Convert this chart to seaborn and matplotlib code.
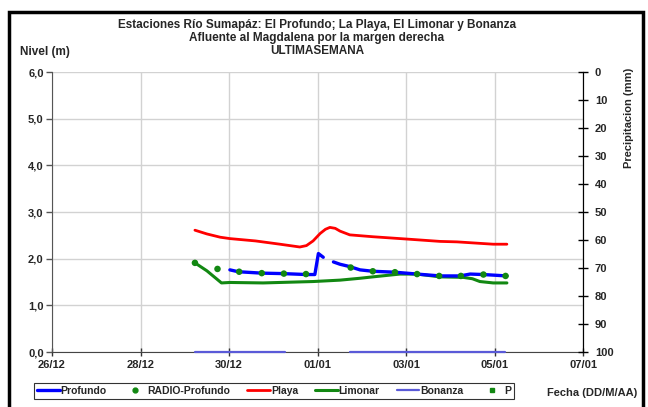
import numpy as np
import pandas as pd
import seaborn as sns
import matplotlib.pyplot as plt
import matplotlib.dates as mdates
from matplotlib.lines import Line2D
from matplotlib.patches import Rectangle

# dias contados desde el 26/12 a las 00:00
inicio = pd.Timestamp("2011-12-26")

playa_t = [3.23, 3.50, 3.80, 4.02, 4.60, 5.15, 5.45, 5.60, 5.75, 5.90, 6.06, 6.18, 6.28, 6.40, 6.51, 6.73,
           7.25, 8.02, 8.77, 9.15, 9.97, 10.28]
playa_v = [2.61, 2.53, 2.46, 2.43, 2.38, 2.31, 2.27, 2.25, 2.28, 2.38, 2.54, 2.63, 2.67, 2.65, 2.59, 2.51,
           2.47, 2.42, 2.37, 2.36, 2.31, 2.31]

limonar_t = [3.23, 3.50, 3.83, 4.02, 4.77, 5.90, 6.51, 6.96, 7.25, 7.86, 8.25, 8.77, 9.29, 9.50, 9.67, 9.97, 10.28]
limonar_v = [1.91, 1.74, 1.48, 1.49, 1.48, 1.51, 1.54, 1.58, 1.61, 1.67, 1.67, 1.61, 1.60, 1.57, 1.51, 1.48, 1.48]

profundo1_t = [4.02, 4.21, 4.74, 5.22, 5.75, 5.94, 6.02, 6.13]
profundo1_v = [1.76, 1.72, 1.69, 1.68, 1.66, 1.66, 2.11, 2.03]
profundo2_t = [6.36, 6.51, 6.73, 6.96, 7.25, 7.75, 8.25, 8.77, 9.22, 9.45, 9.75, 10.28]
profundo2_v = [1.93, 1.88, 1.83, 1.76, 1.73, 1.71, 1.67, 1.63, 1.63, 1.67, 1.66, 1.63]

radio_t = [3.23, 3.74, 4.23, 4.74, 5.24, 5.74, 6.75, 7.25, 7.75, 8.25, 8.75, 9.24, 9.75, 10.25]
radio_v = [1.91, 1.78, 1.72, 1.69, 1.68, 1.67, 1.81, 1.73, 1.71, 1.67, 1.63, 1.63, 1.66, 1.63]

bonanza1_t = [3.23, 4.0, 5.0, 5.27]
bonanza1_v = [0.0, 0.0, 0.0, 0.0]
bonanza2_t = [6.74, 8.0, 9.0, 10.24]
bonanza2_v = [0.0, 0.0, 0.0, 0.0]

p_t = []
p_v = []

nivel_ticks = [0, 1, 2, 3, 4, 5, 6]
precip_ticks = list(range(0, 101, 10))

titulo = ("Estaciones Río Sumapáz: El Profundo; La Playa, El Limonar y Bonanza\n"
          "Afluente al Magdalena por la margen derecha\n"
          "ULTIMASEMANA")


def serie(t, v):
    return pd.DataFrame({"fecha": inicio + pd.to_timedelta(t, unit="D"), "nivel": v})


sns.set_style("white")
plt.rcParams["font.family"] = ["Liberation Sans", "DejaVu Sans"]
plt.rcParams["font.weight"] = "bold"

fig = plt.figure(figsize=(6.48, 4.07), dpi=100)
ax = fig.add_axes([52 / 648, 1 - 352 / 407, 531 / 648, 280 / 407])
ax2 = ax.twinx()

azul = "#0000FF"
rojo = "#FF0000"
verde = "#128812"
lila = "#5a5ad8"

sns.lineplot(data=serie(playa_t, playa_v), x="fecha", y="nivel", color=rojo, lw=2, ax=ax)
sns.lineplot(data=serie(limonar_t, limonar_v), x="fecha", y="nivel", color=verde, lw=2.2, ax=ax)
sns.lineplot(data=serie(profundo1_t, profundo1_v), x="fecha", y="nivel", color=azul, lw=2.4, ax=ax)
sns.lineplot(data=serie(profundo2_t, profundo2_v), x="fecha", y="nivel", color=azul, lw=2.4, ax=ax)
sns.scatterplot(data=serie(radio_t, radio_v), x="fecha", y="nivel", color=verde, s=22,
                edgecolor="none", ax=ax, zorder=5)
for bt, bv in [(bonanza1_t, bonanza1_v), (bonanza2_t, bonanza2_v)]:
    sns.lineplot(data=serie(bt, bv), x="fecha", y="nivel", color=lila, lw=1.6, ax=ax,
                 clip_on=False, zorder=6)
if len(p_t):
    sns.scatterplot(data=serie(p_t, p_v), x="fecha", y="nivel", color=verde, marker="s", s=8, ax=ax2)

ax.set_xlim(inicio, inicio + pd.Timedelta(days=12))
ax.set_ylim(0, 6)
ax.set_yticks(nivel_ticks)
ax.set_yticklabels([f"{v:.1f}".replace(".", ",") for v in nivel_ticks], fontsize=8, fontweight="bold")
ax.xaxis.set_major_locator(mdates.DayLocator(interval=2))
ax.xaxis.set_major_formatter(mdates.DateFormatter("%d/%m"))
for lab in ax.get_xticklabels():
    lab.set_fontsize(8)
    lab.set_fontweight("bold")
ax.set_xlabel("")
ax.set_ylabel("")
ax.grid(True, color="#d2d2d2", lw=1)
ax.tick_params(axis="y", direction="out", length=4, width=1, pad=2, left=True, color="#555555")
ax.tick_params(axis="x", direction="inout", length=6, width=1, pad=3, bottom=True, color="#333333")

ax2.set_ylim(100, 0)
ax2.set_yticks(precip_ticks)
ax2.set_yticklabels([str(v) for v in precip_ticks], fontsize=8, fontweight="bold")
ax2.tick_params(axis="y", direction="inout", length=7, width=1, pad=5, right=True, color="black")
ax2.set_ylabel("")
ax2.grid(False)

for a in (ax, ax2):
    a.spines["top"].set_visible(False)
ax.spines["left"].set_color("#555555")
ax.spines["bottom"].set_color("#444444")
ax2.spines["left"].set_visible(False)
ax2.spines["bottom"].set_visible(False)
ax2.spines["right"].set_color("black")

fig.text(317 / 648, 1 - 19 / 407, titulo, ha="center", va="top", fontsize=8.5,
         fontweight="bold", linespacing=1.12)
fig.text(20 / 648, 1 - 52 / 407, "Nivel (m)", ha="left", va="center", fontsize=8.5, fontweight="bold")
fig.text(629 / 648, 1 - 68 / 407, "Precipitacion (mm)", ha="center", va="top", rotation=90,
         fontsize=8, fontweight="bold")
fig.text(637 / 648, 1 - 393 / 407, "Fecha (DD/M/AA)", ha="right", va="center", fontsize=8,
         fontweight="bold")

handles = [
    Line2D([], [], color=azul, lw=2.4),
    Line2D([], [], color=verde, lw=0, marker="o", markersize=3.5),
    Line2D([], [], color=rojo, lw=2),
    Line2D([], [], color=verde, lw=2.2),
    Line2D([], [], color=lila, lw=1.6),
    Line2D([], [], color=verde, lw=0, marker="s", markersize=2.5),
]
labels = ["Profundo", "RADIO-Profundo", "Playa", "Limonar", "Bonanza", "P"]
leg = fig.legend(handles, labels, loc="center", bbox_to_anchor=(274 / 648, 1 - 391 / 407), ncol=6,
                 fontsize=7.5, frameon=True, fancybox=False, handlelength=2.2, handletextpad=0.1,
                 columnspacing=1.6, borderpad=0.3, borderaxespad=0)
leg.get_frame().set_edgecolor("black")
leg.get_frame().set_linewidth(0.8)
for t in leg.get_texts():
    t.set_fontweight("bold")

fig.patches.append(Rectangle((9 / 648, -0.05), 634 / 648, 1.05 - 12 / 407, transform=fig.transFigure,
                             fill=False, ec="black", lw=2.5))

fig.savefig("out.png", dpi=100)
